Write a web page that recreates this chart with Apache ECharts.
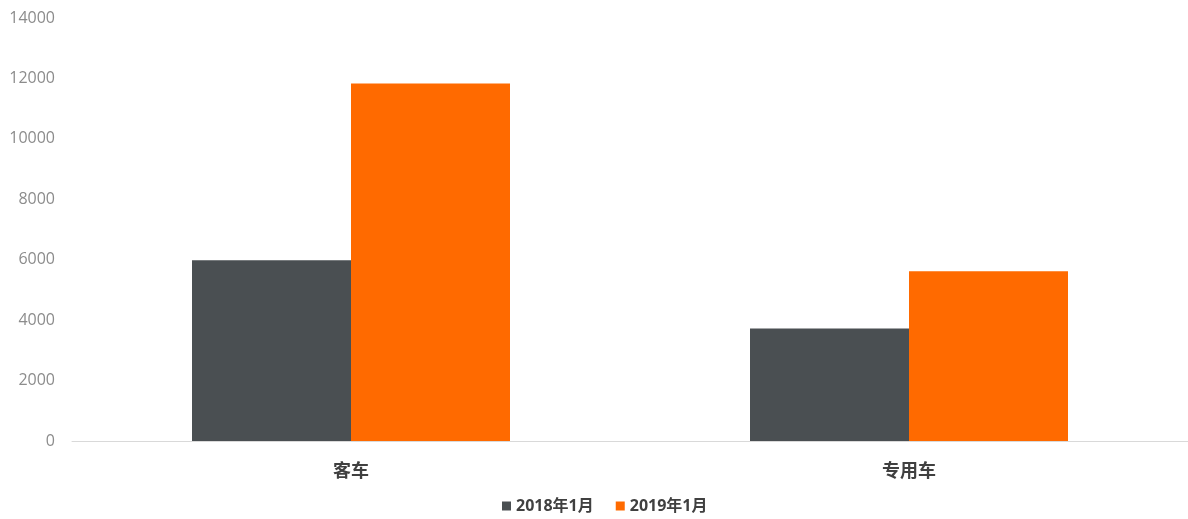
<!DOCTYPE html>
<html>
<head>
<meta charset="utf-8">
<script src="https://cdn.jsdelivr.net/npm/echarts@6/dist/echarts.min.js"></script>
<style>
  html, body { margin: 0; padding: 0; background: #fff; }
  #chart { width: 1188px; height: 519px; }
</style>
</head>
<body>
<div id="chart"></div>
<script>
// 分类
const categories = ['客车', '专用车'];
// 系列数据
const seriesNames = ['2018年1月', '2019年1月'];
const values2018 = [5980, 3720];
const values2019 = [11830, 5620];

const chart = echarts.init(document.getElementById('chart'), null, { renderer: 'canvas' });
chart.setOption({
    backgroundColor: '#ffffff',
    textStyle: { fontFamily: '"Open Sans", "Noto Sans CJK SC", sans-serif' },
    animation: false,
    grid: {
        left: 72,
        right: 0,
        top: 18,
        bottom: 78
    },
    legend: {
        bottom: 0,
        left: 497,
        itemWidth: 9,
        itemHeight: 9,
        itemGap: 22,
        icon: 'rect',
        textStyle: {
            color: '#404040',
            fontSize: 16,
            fontWeight: 'bold',
            padding: [0, 0, 0, 0]
        },
        data: seriesNames
    },
    xAxis: {
        type: 'category',
        data: categories,
        axisLine: { lineStyle: { color: '#d9d9d9', width: 1 } },
        axisTick: { show: false },
        axisLabel: {
            color: '#404040',
            fontSize: 18,
            fontWeight: 'bold',
            margin: 22
        }
    },
    yAxis: {
        type: 'value',
        min: 0,
        max: 14000,
        interval: 2000,
        splitLine: { show: false },
        axisLine: { show: false },
        axisTick: { show: false },
        axisLabel: {
            color: '#8c8c8c',
            fontSize: 16,
            margin: 17,
            formatter: (v) => String(v)
        }
    },
    series: [
        {
            name: seriesNames[0],
            type: 'bar',
            barWidth: 159,
            barGap: '0%',
            itemStyle: { color: '#4a4f52' },
            data: values2018
        },
        {
            name: seriesNames[1],
            type: 'bar',
            barWidth: 159,
            barGap: '0%',
            itemStyle: { color: '#ff6a00' },
            data: values2019
        }
    ]
});
</script>
</body>
</html>
